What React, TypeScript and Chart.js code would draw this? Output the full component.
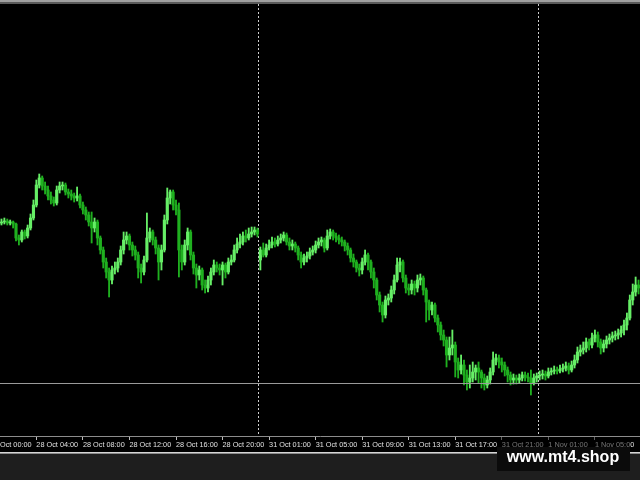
import React, { useEffect, useRef } from 'react';
import { Chart, registerables } from 'chart.js';

Chart.register(...registerables);

// ---- time axis (M15 bars) ----
const SESSIONS = [
  { day: '28 Oct', firstBar: '01:00', bars: 88 },
  { day: '31 Oct', firstBar: '00:00', bars: 96 },
  { day: '1 Nov', firstBar: '00:00', bars: 36 },
];
const BAR_MINUTES = 15;

const TICK_LABELS = [
  '28 Oct 00:00', '28 Oct 04:00', '28 Oct 08:00', '28 Oct 12:00', '28 Oct 16:00', '28 Oct 20:00',
  '31 Oct 01:00', '31 Oct 05:00', '31 Oct 09:00', '31 Oct 13:00', '31 Oct 17:00', '31 Oct 21:00',
  '1 Nov 01:00', '1 Nov 05:00',
];

// ---- prices (arbitrary price units) ----
const OPEN = [
  277, 278, 279, 277, 278, 276, 262, 260, 268, 264,
  272, 282, 295, 315, 322, 314, 310, 304, 300, 297,
  310, 314, 315, 308, 306, 304, 302, 304, 295, 290,
  285, 278, 272, 278, 262, 250, 238, 228, 220, 230,
  232, 238, 250, 260, 264, 255, 250, 245, 232, 228,
  240, 262, 268, 260, 252, 238, 250, 280, 302, 308,
  295, 290, 250, 238, 255, 268, 245, 232, 225, 230,
  215, 212, 220, 228, 235, 232, 230, 235, 228, 238,
  240, 250, 256, 258, 264, 262, 266, 268, 270, 240,
  250, 245, 252, 255, 258, 256, 260, 262, 265, 258,
  254, 256, 252, 245, 238, 242, 244, 248, 250, 255,
  258, 260, 252, 264, 268, 264, 262, 260, 258, 254,
  250, 242, 238, 232, 230, 238, 245, 238, 228, 220,
  205, 195, 185, 200, 202, 210, 220, 235, 238, 222,
  212, 210, 216, 212, 220, 222, 210, 198, 190, 195,
  182, 175, 165, 160, 145, 152, 155, 138, 130, 135,
  125, 118, 122, 128, 132, 128, 122, 115, 120, 128,
  140, 142, 138, 135, 130, 125, 120, 122, 120, 122,
  125, 123, 122, 117, 122, 124, 125, 126, 124, 128,
  129, 130, 129, 131, 132, 134, 130, 135, 140, 148,
  150, 152, 158, 155, 162, 165, 158, 152, 156, 160,
  162, 164, 165, 167, 170, 175, 182, 200, 208, 215,
];
const CLOSE = [
  278, 279, 277, 278, 276, 262, 260, 268, 264, 272,
  282, 295, 315, 322, 314, 310, 304, 300, 297, 310,
  314, 315, 308, 306, 304, 302, 304, 295, 290, 285,
  278, 272, 278, 262, 250, 238, 228, 220, 230, 232,
  238, 250, 260, 264, 255, 250, 245, 232, 228, 240,
  262, 268, 260, 252, 238, 250, 280, 302, 308, 295,
  290, 250, 238, 255, 268, 245, 232, 225, 230, 215,
  212, 220, 228, 235, 232, 230, 235, 228, 238, 240,
  250, 256, 258, 264, 262, 266, 268, 270, 266, 250,
  245, 252, 255, 258, 256, 260, 262, 265, 258, 254,
  256, 252, 245, 238, 242, 244, 248, 250, 255, 258,
  260, 252, 264, 268, 264, 262, 260, 258, 254, 250,
  242, 238, 232, 230, 238, 245, 238, 228, 220, 205,
  195, 185, 200, 202, 210, 220, 235, 238, 222, 212,
  210, 216, 212, 220, 222, 210, 198, 190, 195, 182,
  175, 165, 160, 145, 152, 155, 138, 130, 135, 125,
  118, 122, 128, 132, 128, 122, 115, 120, 128, 140,
  142, 138, 135, 130, 125, 120, 122, 120, 122, 125,
  123, 122, 117, 122, 124, 125, 126, 124, 128, 129,
  130, 129, 131, 132, 134, 130, 135, 140, 148, 150,
  152, 158, 155, 162, 165, 158, 152, 156, 160, 162,
  164, 165, 167, 170, 175, 182, 200, 208, 215, 212,
];
const HIGH = [
  281, 282, 281, 280, 279, 277, 265, 270, 270, 275,
  286, 300, 320, 326, 324, 318, 314, 308, 303, 314,
  318, 318, 317, 311, 310, 307, 313, 306, 298, 293,
  288, 288, 282, 280, 264, 253, 242, 232, 234, 238,
  242, 254, 268, 268, 266, 258, 254, 248, 236, 244,
  287, 272, 270, 263, 255, 255, 285, 312, 310, 310,
  300, 297, 255, 260, 272, 270, 248, 236, 234, 232,
  220, 224, 232, 240, 238, 236, 238, 237, 242, 245,
  255, 262, 266, 268, 270, 272, 273, 273, 272, 253,
  257, 256, 260, 263, 262, 264, 266, 268, 267, 262,
  260, 258, 254, 248, 246, 248, 252, 254, 259, 262,
  263, 262, 270, 271, 270, 267, 265, 263, 260, 257,
  252, 246, 240, 236, 242, 250, 247, 240, 232, 222,
  208, 198, 204, 206, 214, 225, 242, 242, 240, 225,
  216, 220, 219, 225, 226, 224, 212, 200, 198, 197,
  185, 178, 170, 163, 163, 170, 158, 142, 145, 140,
  130, 135, 138, 135, 138, 130, 126, 124, 132, 148,
  146, 145, 142, 138, 133, 128, 126, 125, 126, 128,
  128, 127, 130, 126, 127, 129, 130, 129, 132, 132,
  134, 133, 135, 136, 138, 137, 139, 145, 153, 155,
  158, 162, 161, 167, 170, 168, 161, 160, 164, 166,
  168, 169, 171, 174, 180, 187, 205, 216, 223, 220,
];
const LOW = [
  275, 276, 275, 275, 272, 259, 255, 258, 261, 262,
  270, 280, 293, 312, 310, 306, 300, 296, 294, 295,
  307, 310, 305, 302, 300, 298, 299, 292, 286, 280,
  274, 257, 268, 255, 246, 232, 222, 203, 216, 226,
  228, 235, 246, 256, 250, 244, 240, 222, 217, 225,
  238, 258, 255, 246, 220, 230, 248, 276, 296, 290,
  285, 223, 230, 235, 250, 240, 226, 212, 220, 210,
  207, 208, 215, 225, 228, 225, 215, 222, 226, 235,
  238, 247, 252, 255, 258, 260, 263, 265, 263, 230,
  243, 243, 250, 252, 253, 254, 257, 259, 255, 250,
  250, 248, 240, 232, 235, 238, 241, 245, 247, 252,
  254, 248, 250, 261, 260, 258, 256, 254, 249, 245,
  238, 233, 228, 224, 226, 235, 230, 222, 212, 200,
  188, 178, 182, 195, 198, 206, 218, 228, 218, 207,
  205, 206, 205, 208, 215, 205, 178, 180, 185, 178,
  168, 160, 154, 133, 140, 145, 123, 122, 126, 115,
  110, 112, 118, 120, 117, 112, 110, 112, 116, 125,
  135, 132, 128, 124, 118, 115, 116, 116, 117, 119,
  119, 118, 105, 115, 118, 120, 121, 120, 122, 125,
  126, 126, 127, 128, 129, 126, 128, 132, 137, 144,
  146, 148, 150, 152, 158, 153, 146, 148, 152, 156,
  158, 160, 161, 163, 165, 170, 180, 195, 204, 206,
];

const PRICE_MIN = 64;
const PRICE_MAX = 496;
const HLINE_PRICE = 117;

const BULL = '#66ee66';
const BEAR = '#1fb01f';

// ---- helpers ----
const toMin = (s: string) => {
  const [h, m] = s.split(':').map(Number);
  return h * 60 + m;
};
const fmt = (m: number) =>
  `${String(Math.floor(m / 60)).padStart(2, '0')}:${String(m % 60).padStart(2, '0')}`;

const SESSION_START: number[] = [];
const CATEGORIES: string[] = [];
SESSIONS.forEach((s) => {
  SESSION_START.push(CATEGORIES.length);
  const f = toMin(s.firstBar);
  for (let k = 0; k < s.bars; k++) CATEGORIES.push(`${s.day} ${fmt(f + k * BAR_MINUTES)}`);
});

const barIndexOf = (label: string) => {
  const parts = label.split(' ');
  const day = parts[0] + ' ' + parts[1];
  const si = SESSIONS.findIndex((s) => s.day === day);
  return SESSION_START[si] + (toMin(parts[2]) - toMin(SESSIONS[si].firstBar)) / BAR_MINUTES;
};
const TICK_INDEX = TICK_LABELS.map(barIndexOf);
const SEPARATOR_INDEX = SESSION_START.slice(1);

export default function App() {
  const ref = useRef<HTMLCanvasElement>(null);

  useEffect(() => {
    document.body.style.margin = '0';
    const canvas = ref.current;
    if (!canvas) return;
    const colors = CLOSE.map((c, i) => (c >= OPEN[i] ? BULL : BEAR));

    const decor = {
      id: 'decor',
      beforeDraw(chart: any) {
        const { ctx, width, height } = chart;
        ctx.save();
        ctx.fillStyle = '#000000';
        ctx.fillRect(0, 0, width, height);
        ctx.fillStyle = '#a0a0a0';
        ctx.fillRect(0, 0, width, 2);
        ctx.fillStyle = '#5a5a5a';
        ctx.fillRect(0, 2, width, 2);
        ctx.fillStyle = '#d6d6d6';
        ctx.fillRect(0, 452, width, 1);
        ctx.fillStyle = '#8a8a8a';
        ctx.fillRect(0, 453, width, 1);
        ctx.fillStyle = '#1e1e1e';
        ctx.fillRect(0, 454, width, height - 454);
        ctx.restore();
      },
      beforeDatasetsDraw(chart: any) {
        const { ctx, chartArea } = chart;
        const xs = chart.scales.x;
        ctx.save();
        ctx.strokeStyle = '#cfcfcf';
        ctx.lineWidth = 1;
        ctx.setLineDash([2, 2]);
        SEPARATOR_INDEX.forEach((idx) => {
          const x = Math.round(xs.getPixelForValue(idx) + 1) + 0.5;
          ctx.beginPath();
          ctx.moveTo(x, chartArea.top);
          ctx.lineTo(x, chartArea.bottom);
          ctx.stroke();
        });
        ctx.restore();
      },
      afterDatasetsDraw(chart: any) {
        const { ctx, chartArea } = chart;
        const y = Math.round(chart.scales.y.getPixelForValue(HLINE_PRICE)) + 0.5;
        ctx.save();
        ctx.strokeStyle = '#9a9a9a';
        ctx.lineWidth = 1;
        ctx.beginPath();
        ctx.moveTo(chartArea.left, y);
        ctx.lineTo(chartArea.right, y);
        ctx.stroke();
        ctx.restore();
      },
      afterDraw(chart: any) {
        const { ctx } = chart;
        ctx.save();
        ctx.fillStyle = 'rgba(0,0,0,0.5)';
        ctx.fillRect(497, 437, 133, 11);
        ctx.fillStyle = '#0b0b0b';
        ctx.fillRect(497, 447, 133, 24);
        ctx.fillStyle = '#ffffff';
        ctx.font = 'bold 16px "Liberation Sans", Arial, sans-serif';
        ctx.textAlign = 'center';
        ctx.textBaseline = 'alphabetic';
        ctx.fillText('www.mt4.shop', 563, 462);
        ctx.restore();
      },
    };

    const chart = new Chart(canvas, {
      type: 'bar',
      data: {
        labels: CATEGORIES,
        datasets: [
          {
            label: 'body',
            data: OPEN.map((o, i) => [o, CLOSE[i]]) as any,
            backgroundColor: colors,
            borderWidth: 0,
            barThickness: 2.5,
            minBarLength: 1,
            grouped: false,
            order: 0,
          },
          {
            label: 'wick',
            data: LOW.map((l, i) => [l, HIGH[i]]) as any,
            backgroundColor: colors,
            borderWidth: 0,
            barThickness: 1.2,
            minBarLength: 1,
            grouped: false,
            order: 1,
          },
        ],
      },
      options: {
        responsive: false,
        animation: false,
        devicePixelRatio: 1,
        events: [],
        layout: { padding: { top: 4, left: 0, right: 0, bottom: 0 } },
        plugins: { legend: { display: false }, tooltip: { enabled: false } },
        scales: {
          x: {
            type: 'category',
            offset: true,
            grid: {
              display: true,
              drawOnChartArea: false,
              drawTicks: true,
              tickLength: 4,
              color: '#bdbdbd',
              offset: false,
            },
            border: { display: true, color: '#8c8c8c', width: 1 },
            ticks: {
              autoSkip: false,
              maxRotation: 0,
              minRotation: 0,
              align: 'start',
              padding: 1,
              color: '#e0e0e0',
              font: { family: '"Liberation Sans", Arial, sans-serif', size: 7.3 },
              callback: (v: any) => {
                const k = TICK_INDEX.indexOf(Number(v));
                return k >= 0 ? TICK_LABELS[k] : '';
              },
            },
            afterBuildTicks: (scale: any) => {
              scale.ticks = TICK_INDEX.map((v) => ({ value: v }));
            },
            afterFit: (scale: any) => {
              scale.height = 44;
              scale.paddingLeft = 0;
              scale.paddingRight = 0;
            },
          } as any,
          y: { display: false, min: PRICE_MIN, max: PRICE_MAX },
        },
      },
      plugins: [decor],
    });
    return () => chart.destroy();
  }, []);

  return (
    <div style={{ position: 'absolute', left: 0, top: 0, width: 640, height: 480 }}>
      <canvas ref={ref} width={640} height={480} style={{ display: 'block' }} />
    </div>
  );
}
